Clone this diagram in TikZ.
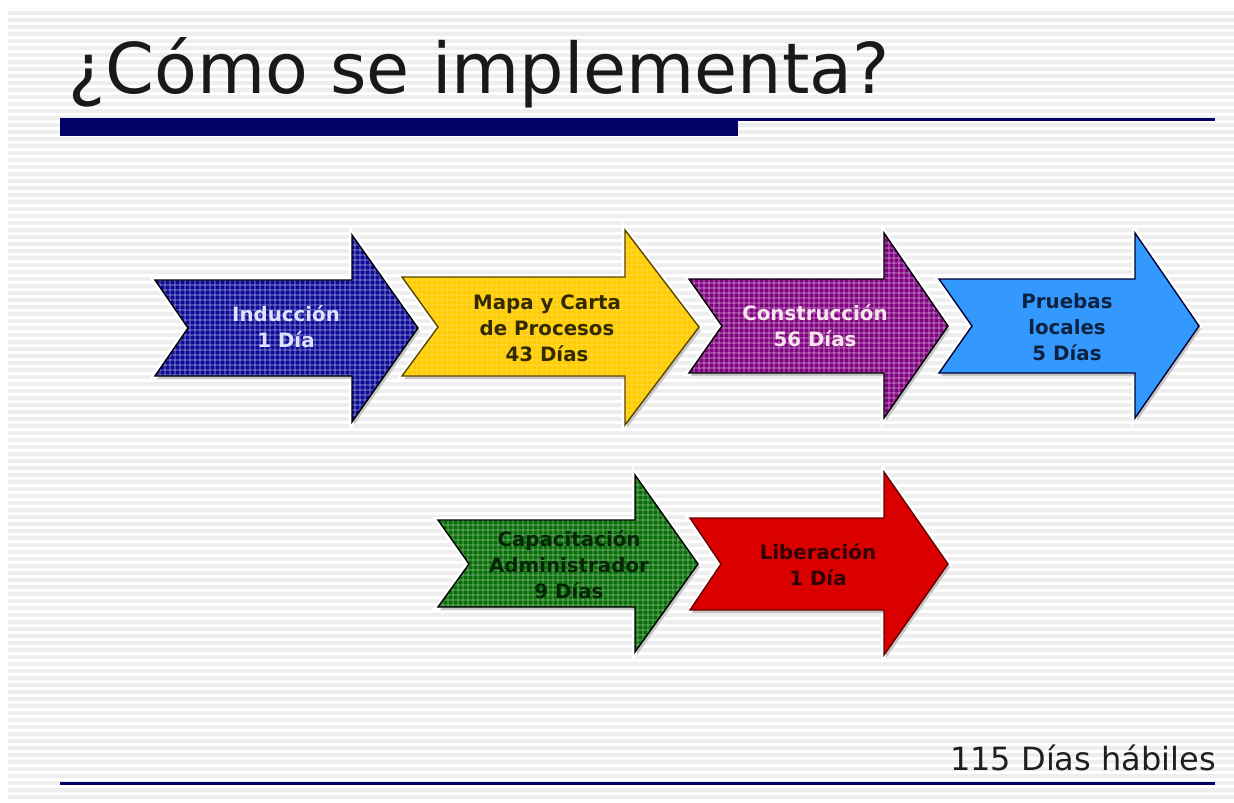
\documentclass[tikz,border=0pt]{standalone}
\usepackage{fontspec}
\setmainfont{DejaVu Sans}
\definecolor{navy}{RGB}{0,0,102}
\definecolor{cblue}{RGB}{10,10,150}
\definecolor{cyellow}{RGB}{255,204,0}
\definecolor{cpurple}{RGB}{128,0,128}
\definecolor{clblue}{RGB}{51,153,255}
\definecolor{cgreen}{RGB}{8,110,8}
\definecolor{cred}{RGB}{218,0,0}
\definecolor{stripe}{RGB}{238,238,238}
\definecolor{tyellow}{RGB}{52,42,0}
\definecolor{tyline}{RGB}{90,70,0}
\definecolor{tlblue}{RGB}{14,34,64}
\definecolor{tgreen}{RGB}{6,36,6}
\definecolor{tred}{RGB}{48,0,0}
\newcommand\setarrow[9]{\def\aX{#1}\def\aN{#2}\def\aT{#3}\def\aB{#4}\def\aH{#5}\def\aHT{#6}\def\aHB{#7}\def\aP{#8}\def\aM{#9}}
\newcommand\drawarrow[3]{%
  \draw[white,line width=6pt,line join=miter] (\aX,\aT) -- (\aH,\aT) -- (\aH,\aHT) -- (\aP,\aM) -- (\aH,\aHB) -- (\aH,\aB) -- (\aX,\aB) -- (\aN,\aM) -- cycle;
  \fill[gray!45,shift={(2,3)}] (\aX,\aT) -- (\aH,\aT) -- (\aH,\aHT) -- (\aP,\aM) -- (\aH,\aHB) -- (\aH,\aB) -- (\aX,\aB) -- (\aN,\aM) -- cycle;
  \begin{scope}
    \clip (\aX,\aT) -- (\aH,\aT) -- (\aH,\aHT) -- (\aP,\aM) -- (\aH,\aHB) -- (\aH,\aB) -- (\aX,\aB) -- (\aN,\aM) -- cycle;
    \fill[#1] (\aX,\aHT) rectangle (\aP,\aHB);
    \pgfmathtruncatemacro\aXb{\aX+5}
    \pgfmathtruncatemacro\aTb{\aHT+5}
    \foreach \xx in {\aX,\aXb,...,\aP} \draw[white,opacity=#3,line width=1.2pt] (\xx,\aHT) -- (\xx,\aHB);
    \foreach \yy in {\aHT,\aTb,...,\aHB} \draw[white,opacity=#3,line width=1.2pt] (\aX,\yy) -- (\aP,\yy);
  \end{scope}
  \draw[#2,line width=1.4pt,line join=miter] (\aX,\aT) -- (\aH,\aT) -- (\aH,\aHT) -- (\aP,\aM) -- (\aH,\aHB) -- (\aH,\aB) -- (\aX,\aB) -- (\aN,\aM) -- cycle;
}
\tikzset{
  lbl/.style={font=\fontsize{19.8}{26}\selectfont\bfseries, align=center, inner sep=0pt},
}
\begin{document}
\begin{tikzpicture}[x=1pt,y=-1pt]
\useasboundingbox (0,0) rectangle (1234,803);
\fill[white] (0,0) rectangle (1234,803);
\foreach \y in {11,18,...,797} \fill[stripe] (8,\y) rectangle (1234,\y+3.5);

% title
\node[anchor=base west, inner sep=0pt, font=\fontsize{70}{84}\selectfont, text=black!90] (title) at (68,93) {¿Cómo se implementa?};
\fill[navy] (60,118) rectangle (738,136);
\fill[navy] (738,118) rectangle (1215,121);

% arrows row 1
\setarrow{155}{188}{280}{376}{352}{235}{422}{418}{328}
\drawarrow{cblue}{black}{0.22}
\node[lbl, text=white!88!blue] (t1) at (286,327) {Inducción\\1 Día};

\setarrow{402}{438}{277}{376}{625}{230}{425}{699}{327}
\drawarrow{cyellow}{tyline}{0.10}
\node[lbl, text=tyellow] (t2) at (547,328) {Mapa y Carta\\de Procesos\\43 Días};

\setarrow{689}{722}{279}{373}{884}{233}{418}{948}{326}
\drawarrow{cpurple}{black}{0.22}
\node[lbl, text=white!90!purple] (t3) at (815,326) {Construcción\\56 Días};

\setarrow{939}{972}{279}{373}{1135}{233}{418}{1199}{326}
\drawarrow{clblue}{black!80!blue}{0.0}
\node[lbl, text=tlblue] (t4) at (1067,327) {Pruebas\\locales\\5 Días};

% arrows row 2
\setarrow{438}{469}{520}{607}{635}{475}{652}{698}{564}
\drawarrow{cgreen}{black}{0.18}
\node[lbl, text=tgreen] (t5) at (569,565) {Capacitación\\Administrador\\9 Días};

\setarrow{690}{721}{518}{610}{884}{472}{655}{948}{564}
\drawarrow{cred}{black!60!red}{0.0}
\node[lbl, text=tred] (t6) at (818,565) {Liberación\\1 Día};

% footer
\node[anchor=base east, inner sep=0pt, font=\fontsize{32}{38}\selectfont, text=black!88] (total) at (1216,770) {115 Días hábiles};
\fill[navy] (60,782) rectangle (1215,785);
\end{tikzpicture}
\end{document}
